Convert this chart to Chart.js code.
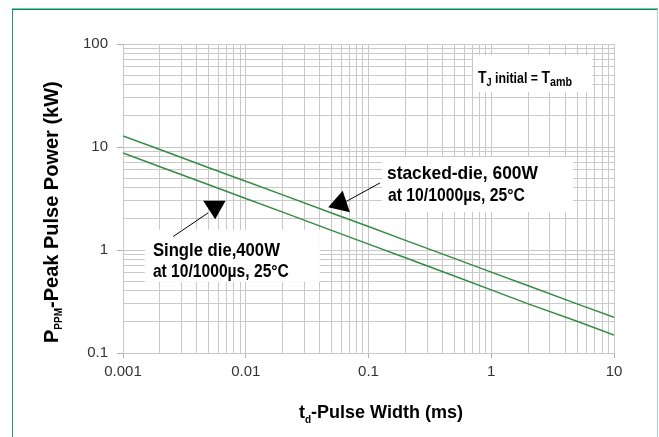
<!DOCTYPE html>
<html><head><meta charset="utf-8">
<script src="https://cdn.jsdelivr.net/npm/chart.js@4.4.1/dist/chart.umd.min.js"></script>
<style>html,body{margin:0;padding:0;background:#fff;}canvas{display:block;}</style>
</head><body>
<canvas id="c" width="659" height="437"></canvas>
<script>
// ---- data ----
const pulseWidthMs   = [0.001, 0.002, 0.005, 0.01, 0.02, 0.05, 0.1, 0.2, 0.5, 1, 2, 5, 10];
const stackedDie600W = [12.8, 9.44, 6.29, 4.65, 3.43, 2.29, 1.69, 1.24, 0.83, 0.61, 0.45, 0.30, 0.222];
const singleDie400W  = [8.75, 6.44, 4.30, 3.16, 2.33, 1.55, 1.14, 0.84, 0.56, 0.41, 0.30, 0.203, 0.149];
const xTickLabels = ['0.001', '0.01', '0.1', '1', '10'];
const yTickLabels = ['0.1', '1', '10', '100'];

const SANS = "'Liberation Sans',Arial,sans-serif";
const B = s => 'bold ' + s + 'px ' + SANS;
const LINE = '#348c44';
const GRID = '#c9c9c9';

function logGrid(labels) {
  const dec = labels.map(Number);
  const out = [];
  for (let i = 0; i < dec.length - 1; i++) for (let m = 1; m < 10; m++) out.push(+(dec[i] * m).toPrecision(3));
  out.push(dec[dec.length - 1]);
  return out;
}
function isDecade(v, labels) { return labels.map(Number).some(d => Math.abs(d - v) / d < 1e-6); }
function labelFor(v, labels) { const i = labels.map(Number).findIndex(d => Math.abs(d - v) / d < 1e-6); return i >= 0 ? labels[i] : ''; }

function runs(ctx, x, y, parts) {
  for (const [t, f, dy] of parts) { ctx.font = f; ctx.fillText(t, x, y + (dy || 0)); x += ctx.measureText(t).width; }
}
// condensed text: draws parts squeezed horizontally to the given width
function narrow(ctx, x, y, width, parts) {
  let w = 0;
  for (const [t, f] of parts) { ctx.font = f; w += ctx.measureText(t).width; }
  ctx.save(); ctx.translate(x, y); ctx.scale(width / w, 1); runs(ctx, 0, 0, parts); ctx.restore();
}

const annot = {
  id: 'annot',
  afterDraw(chart) {
    const ctx = chart.ctx, xs = chart.scales.x, ys = chart.scales.y;
    const P = (x, y) => [xs.getPixelForValue(x), ys.getPixelForValue(y)];
    ctx.save();
    ctx.textBaseline = 'alphabetic'; ctx.textAlign = 'left';

    // T_J box
    let [bx, by] = P(0.71, 78.2);
    ctx.fillStyle = '#fff'; ctx.fillRect(bx, by, 119, 37);
    ctx.fillStyle = '#000';
    narrow(ctx, bx + 5, by + 28, 94, [['T', B(17), 0], ['J', B(11), 3], [' initial = ', B(15), 0], ['T', B(17), 0], ['amb', B(13), 3]]);

    // stacked-die annotation (anchor = arrow tip)
    let [sx, sy] = P(0.047, 2.6);
    ctx.fillStyle = '#fff'; ctx.fillRect(sx + 53.7, sy - 50.3, 191, 55);
    ctx.fillStyle = '#000'; ctx.strokeStyle = '#000';
    narrow(ctx, sx + 58.7, sy - 28.3, 151, [['stacked-die, 600W', B(19)]]);
    narrow(ctx, sx + 59.7, sy - 6.3, 137, [['at 10/1000\u00b5s, 25\u00b0C', B(19)]]);
    ctx.lineWidth = 1;
    ctx.beginPath(); ctx.moveTo(sx + 18, sy - 5.8); ctx.lineTo(sx + 51.7, sy - 24.3); ctx.stroke();
    ctx.beginPath(); ctx.moveTo(sx, sy); ctx.lineTo(sx + 14.4, sy - 16.6); ctx.lineTo(sx + 21.7, sy + 5); ctx.closePath(); ctx.fill();

    // single-die annotation (anchor = triangle top-left)
    let [gx, gy] = P(0.0045, 3.0);
    ctx.fillStyle = '#fff'; ctx.fillRect(gx - 58.3, gy + 29, 175, 52);
    ctx.fillStyle = '#000';
    narrow(ctx, gx - 50.3, gy + 55, 127, [['Single die,400W', B(19)]]);
    narrow(ctx, gx - 50.3, gy + 76, 136, [['at 10/1000\u00b5s, 25\u00b0C', B(19)]]);
    ctx.beginPath(); ctx.moveTo(gx - 30, gy + 35.7); ctx.lineTo(gx + 5, gy + 12); ctx.stroke();
    ctx.beginPath(); ctx.moveTo(gx, gy); ctx.lineTo(gx + 22.4, gy); ctx.lineTo(gx + 12, gy + 18.3); ctx.closePath(); ctx.fill();

    // axis titles
    ctx.fillStyle = '#000';
    runs(ctx, 299, 418, [['t', B(18), 0], ['d', B(10), 5], ['-Pulse Width (ms)', B(18), 0]]);
    ctx.save();
    ctx.translate(58, 343); ctx.rotate(-Math.PI / 2);
    runs(ctx, 0, 0, [['P', B(20), 0], ['PPM', B(10), 4], ['-Peak Pulse Power (kW)', B(20), 0]]);
    ctx.restore();

    // frame
    ctx.lineWidth = 1.5; ctx.strokeStyle = '#008c5a';
    ctx.beginPath(); ctx.moveTo(12, 9.25); ctx.lineTo(658, 9.25); ctx.stroke();
    ctx.lineWidth = 1; ctx.strokeStyle = '#1d9868';
    ctx.beginPath(); ctx.moveTo(12.5, 9); ctx.lineTo(12.5, 437); ctx.stroke();
    ctx.strokeStyle = '#9fd8c4';
    ctx.beginPath(); ctx.moveTo(657.5, 9); ctx.lineTo(657.5, 437); ctx.stroke();
    ctx.restore();
  }
};

new Chart(document.getElementById('c'), {
  type: 'line',
  data: {
    datasets: [
      { label: 'stacked-die, 600W', data: pulseWidthMs.map((x, i) => ({ x, y: stackedDie600W[i] })), borderColor: LINE, borderWidth: 1.5, pointRadius: 0, tension: 0, fill: false },
      { label: 'Single die,400W', data: pulseWidthMs.map((x, i) => ({ x, y: singleDie400W[i] })), borderColor: LINE, borderWidth: 1.5, pointRadius: 0, tension: 0, fill: false }
    ]
  },
  options: {
    responsive: false, animation: false, devicePixelRatio: 1,
    layout: { padding: { left: 0, right: 45, top: 44, bottom: 0 } },
    plugins: { legend: { display: false }, tooltip: { enabled: false } },
    scales: {
      x: {
        type: 'logarithmic', min: 0.001, max: 10,
        afterBuildTicks: s => { s.ticks = logGrid(xTickLabels).map(v => ({ value: v, major: isDecade(v, xTickLabels) })); },
        afterFit: s => { s.height = 84; },
        ticks: { autoSkip: false, maxRotation: 0, minRotation: 0, padding: 5, color: '#333', font: { family: SANS, size: 15 }, callback: v => labelFor(v, xTickLabels) },
        grid: { color: GRID, lineWidth: 1, tickLength: 5, tickColor: c => (c.tick && isDecade(c.tick.value, xTickLabels)) ? '#b0b0b0' : 'rgba(0,0,0,0)' },
        border: { color: GRID }
      },
      y: {
        type: 'logarithmic', min: 0.1, max: 100,
        afterBuildTicks: s => { s.ticks = logGrid(yTickLabels).map(v => ({ value: v, major: isDecade(v, yTickLabels) })); },
        afterFit: s => { s.width = 123; },
        ticks: { autoSkip: false, padding: 9, color: '#333', font: { family: SANS, size: 15 }, callback: v => labelFor(v, yTickLabels) },
        grid: { color: GRID, lineWidth: 1, tickLength: 6, tickColor: c => (c.tick && isDecade(c.tick.value, yTickLabels)) ? '#b0b0b0' : 'rgba(0,0,0,0)' },
        border: { color: GRID }
      }
    }
  },
  plugins: [annot]
});
</script>
</body></html>
